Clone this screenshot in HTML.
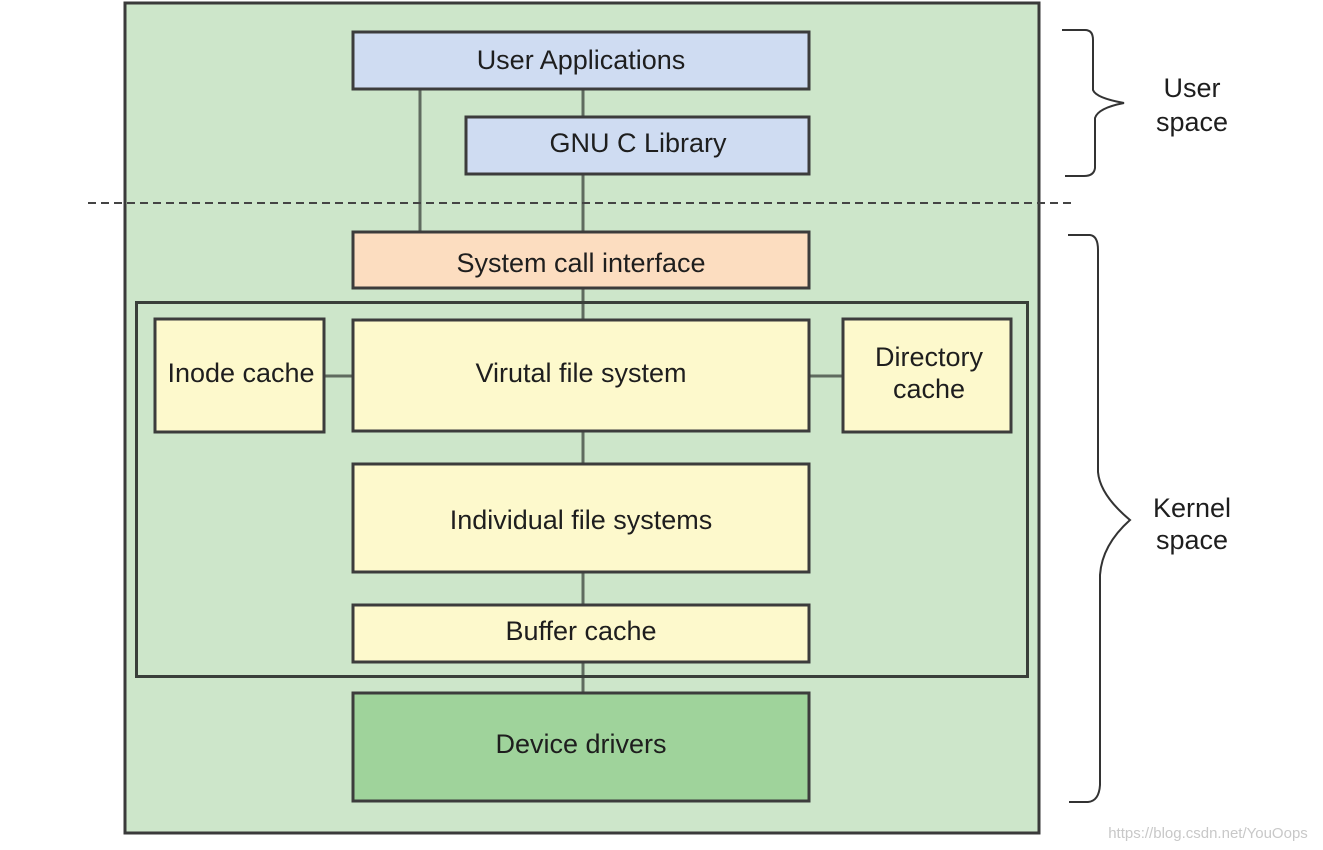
<!DOCTYPE html>
<html><head><meta charset="utf-8"><style>
html,body{margin:0;padding:0;background:#fff;width:1323px;height:850px;overflow:hidden}
svg text{font-family:"Liberation Sans",Arial,sans-serif;font-size:27px;fill:#1e1e1e;text-anchor:middle}
</style></head><body>
<svg width="1323" height="850" xmlns="http://www.w3.org/2000/svg">
<rect x="125" y="3" width="914" height="830" fill="#cde6ca" stroke="#3a3a3a" stroke-width="3"/>
<g stroke="#5f6b5f" stroke-width="3" fill="none">
<line x1="420" y1="90" x2="420" y2="231"/>
<line x1="583" y1="90" x2="583" y2="116"/>
<line x1="583" y1="175" x2="583" y2="231"/>
<line x1="583" y1="289" x2="583" y2="319"/>
<line x1="583" y1="432" x2="583" y2="463"/>
<line x1="583" y1="573" x2="583" y2="604"/>
<line x1="583" y1="663" x2="583" y2="692"/>
<line x1="325" y1="376" x2="352" y2="376"/>
<line x1="810" y1="376" x2="842" y2="376"/>
</g>
<line x1="88" y1="203" x2="1075" y2="203" stroke="#444" stroke-width="2" stroke-dasharray="8,5"/>
<rect x="136.5" y="302.5" width="891" height="374" fill="none" stroke="#3a3f3a" stroke-width="3"/>
<g stroke="#3c3c3c" stroke-width="3">
<rect x="353" y="32" width="456" height="57" fill="#cfdcf2"/>
<rect x="466" y="117" width="343" height="57" fill="#cfdcf2"/>
<rect x="353" y="232" width="456" height="56" fill="#fcddc0"/>
<rect x="155" y="319" width="169" height="113" fill="#fdf9cc"/>
<rect x="353" y="320" width="456" height="111" fill="#fdf9cc"/>
<rect x="843" y="319" width="168" height="113" fill="#fdf9cc"/>
<rect x="353" y="464" width="456" height="108" fill="#fdf9cc"/>
<rect x="353" y="605" width="456" height="57" fill="#fdf9cc"/>
<rect x="353" y="693" width="456" height="108" fill="#9fd39b"/>
</g>
<text x="581" y="69">User Applications</text>
<text x="638" y="152">GNU C Library</text>
<text x="581" y="272">System call interface</text>
<text x="241" y="382">Inode cache</text>
<text x="581" y="382">Virutal file system</text>
<text x="929" y="366">Directory</text>
<text x="929" y="398">cache</text>
<text x="581" y="529">Individual file systems</text>
<text x="581" y="640">Buffer cache</text>
<text x="581" y="753">Device drivers</text>
<g stroke="#333" stroke-width="2" fill="none">
<path d="M1062,30 L1085,30 Q1093,30 1093,40 L1093,90 Q1096,98 1124,103 Q1098,108 1095,118 L1095,168 Q1094,176 1084,176 L1065,176"/>
<path d="M1068,235 L1090,235 Q1098,236 1098,250 L1098,472 Q1100,495 1130,520 Q1102,545 1100,575 L1100,785 Q1099,801 1088,802 L1069,802"/>
</g>
<text x="1192" y="97">User</text>
<text x="1192" y="131">space</text>
<text x="1192" y="517">Kernel</text>
<text x="1192" y="549">space</text>
<text x="1208" y="838" style="font-size:15px;fill:#c8c8c8">https://blog.csdn.net/YouOops</text>
</svg>
</body></html>
